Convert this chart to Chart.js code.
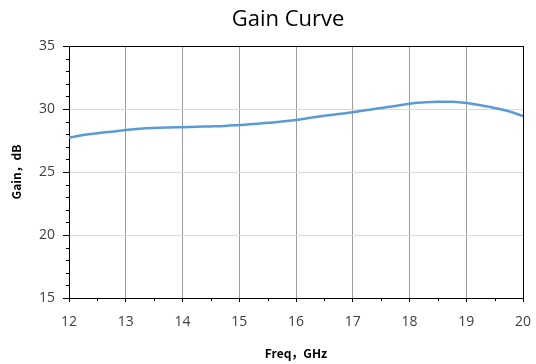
<!DOCTYPE html>
<html>
<head>
<meta charset="utf-8">
<script src="https://cdn.jsdelivr.net/npm/chart.js@4"></script>
<style>
  html, body { margin: 0; padding: 0; background: #fff; }
  #wrap { width: 536px; height: 364px; }
</style>
</head>
<body>
<div id="wrap"><canvas id="gainChart" width="536" height="364"></canvas></div>
<script>
// frequency points (GHz) and gain (dB)
const freqs = [12.0, 12.25, 12.5, 12.75, 13.0, 13.25, 13.5, 13.75, 14.0, 14.25, 14.5, 14.75,
  15.0, 15.25, 15.5, 15.75, 16.0, 16.25, 16.5, 16.75, 17.0, 17.25, 17.5, 17.75,
  18.0, 18.25, 18.5, 18.75, 19.0, 19.25, 19.5, 19.75, 20.0];
const gains = [27.72, 27.93, 28.08, 28.2, 28.33, 28.43, 28.49, 28.53, 28.56, 28.59, 28.62, 28.66,
  28.73, 28.8, 28.9, 29.0, 29.13, 29.3, 29.46, 29.6, 29.74, 29.92, 30.08, 30.24,
  30.42, 30.52, 30.58, 30.57, 30.48, 30.3, 30.08, 29.82, 29.44];
const xTicks = [12, 13, 14, 15, 16, 17, 18, 19, 20];
const yTicks = [15, 20, 25, 30, 35];

// minor ticks + chart heading
const extras = {
  id: "extras",
  afterDraw(chart) {
    const { ctx, chartArea, scales } = chart;
    ctx.save();
    ctx.strokeStyle = "#000";
    ctx.lineWidth = 1;
    for (let v = yTicks[0]; v <= yTicks[yTicks.length - 1]; v++) {
      if (v % 5 === 0) continue;
      const y = Math.round(scales.y.getPixelForValue(v)) + 0.5;
      ctx.beginPath();
      ctx.moveTo(chartArea.left - 3, y);
      ctx.lineTo(chartArea.left + 1, y);
      ctx.stroke();
    }
    for (let v = xTicks[0] + 0.5; v < xTicks[xTicks.length - 1]; v += 1) {
      const x = Math.round(scales.x.getPixelForValue(v)) + 0.5;
      ctx.beginPath();
      ctx.moveTo(x, chartArea.bottom);
      ctx.lineTo(x, chartArea.bottom + 3);
      ctx.stroke();
    }
    ctx.fillStyle = "#000";
    ctx.font = "22px 'Open Sans'";
    ctx.textAlign = "center";
    ctx.textBaseline = "middle";
    ctx.fillText("Gain Curve", 288, 20);
    ctx.restore();
  }
};

const axisFont = { family: "'Noto Sans CJK SC', 'DejaVu Sans'", size: 12, weight: "bold" };

const ctx = document.getElementById("gainChart").getContext("2d");
new Chart(ctx, {
  type: "line",
  data: {
    datasets: [{
      data: freqs.map((f, i) => ({ x: f, y: gains[i] })),
      borderColor: "#5b9bd5",
      borderWidth: 2.5,
      pointRadius: 0,
      tension: 0.4,
      fill: false
    }]
  },
  options: {
    responsive: false,
    animation: false,
    layout: { padding: { top: 46, right: 13, left: 0, bottom: 0 } },
    plugins: { legend: { display: false }, tooltip: { enabled: false } },
    scales: {
      x: {
        type: "linear",
        min: 12, max: 20,
        afterFit(s) { s.height = 66; s.paddingLeft = 0; s.paddingRight = 0; },
        afterBuildTicks(s) { s.ticks = xTicks.map(v => ({ value: v })); },
        grid: {
          color: c => c.tick.value === 20 ? "#000" : (c.tick.value === 12 ? "rgba(0,0,0,0)" : "#9c9c9c"),
          tickColor: "#000",
          tickLength: 4
        },
        border: { display: true, color: "#000", width: 1 },
        ticks: { color: "#404040", font: { family: "'Open Sans'", size: 14 }, padding: 12, maxRotation: 0 },
        title: {
          display: true, text: "Freq，GHz", color: "#000",
          font: axisFont,
          padding: { top: 0, bottom: 3 }
        }
      },
      y: {
        min: 15, max: 35,
        afterFit(s) { s.width = 69; s.paddingTop = 0; s.paddingBottom = 0; },
        afterBuildTicks(s) { s.ticks = yTicks.map(v => ({ value: v })); },
        grid: {
          color: c => c.tick.value === 35 ? "#000" : (c.tick.value === 15 ? "rgba(0,0,0,0)" : "#d9d9d9"),
          tickColor: "#000",
          tickLength: 6
        },
        border: { display: true, color: "#000", width: 1 },
        ticks: { color: "#404040", font: { family: "'Open Sans'", size: 14 }, padding: 8 },
        title: {
          display: true, text: "Gain，dB", color: "#000",
          font: axisFont,
          padding: { top: 9, bottom: 0 }
        }
      }
    }
  },
  plugins: [extras]
});
</script>
</body>
</html>
